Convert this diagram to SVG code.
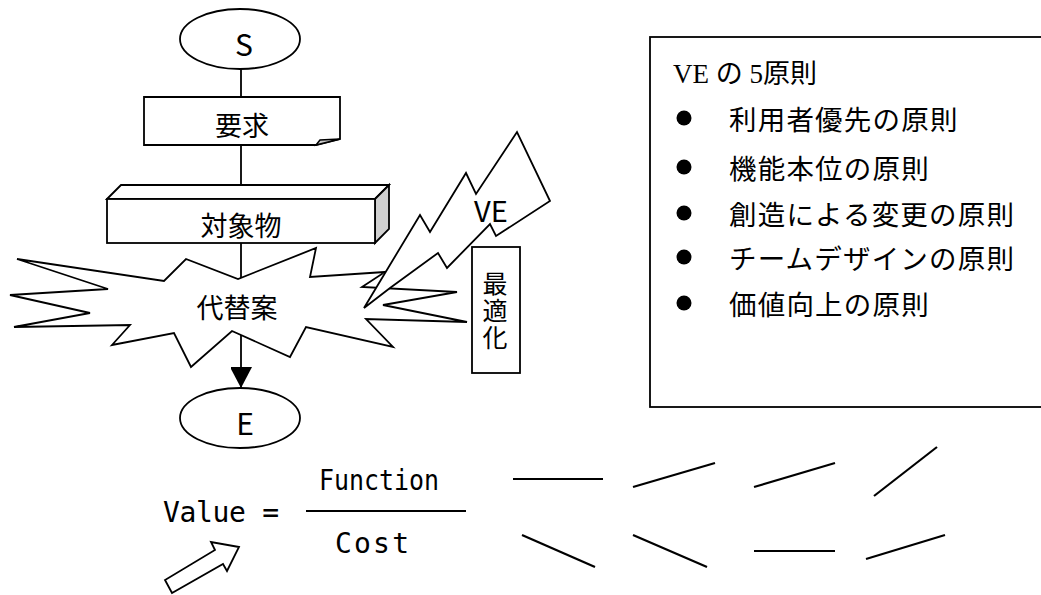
<svg xmlns="http://www.w3.org/2000/svg" width="1041" height="595" viewBox="0 0 1041 595">
<style>
.s{fill:#fff;stroke:#000;stroke-width:1.8;stroke-linejoin:miter}
.ln{stroke:#000;stroke-width:1.8;fill:none}
.ln2{stroke:#000;stroke-width:2.2;fill:none}
.jp{font-family:"Noto Sans CJK JP","Noto Sans",sans-serif;fill:#000}
.lbl{font-size:27px;letter-spacing:0px;text-anchor:middle;dominant-baseline:central}
.lst{font-size:27.5px;letter-spacing:1.2px;dominant-baseline:central}
.mono{font-family:"DejaVu Sans Mono","Liberation Mono",monospace;font-size:28px;fill:#000}
.serif{font-family:"Liberation Serif",serif}
</style>
<defs>
<marker id="ah" markerWidth="22" markerHeight="21" refX="21" refY="11" orient="auto" markerUnits="userSpaceOnUse">
<path d="M0,0 L21,11 L0,22 Z" fill="#000"/>
</marker>
</defs>
<rect width="1041" height="595" fill="#fff"/>
<g id="connectors">
<line class="ln" x1="241" y1="69" x2="241" y2="97"/>
<line class="ln" x1="241" y1="145" x2="241" y2="185"/>
<line class="ln" x1="241" y1="243" x2="241" y2="388" marker-end="url(#ah)"/>
</g>
<g id="node-S">
<ellipse class="s" cx="240" cy="39" rx="60" ry="30"/>
<text class="jp lbl" x="244" y="43" style="font-size:30px">S</text>
</g>
<g id="node-yokyu">
<path class="s" d="M144,97 H340 V139 L316,145 H144 Z"/>
<path d="M316,145 L320,140 L340,139 Z" fill="#c8c8c8" stroke="#000" stroke-width="1.5"/>
<text class="jp lbl" x="242" y="124">要求</text>
</g>
<g id="node-taishobutsu">
<path class="s" d="M107,199 L121,185 H389 L375,199 Z"/>
<path d="M375,199 L389,185 V229 L375,243 Z" fill="#d0d0d0" stroke="#000" stroke-width="1.8"/>
<rect class="s" x="107" y="199" width="268" height="44"/>
<text class="jp lbl" x="241" y="224">対象物</text>
</g>
<g id="node-daitaian">
<polygon class="s" points="17,259 164,281 186,259 238,279 316,248 310,277 385,272 362,287 457,292 383,305 467,322 366,319 393,347 306,327 290,357 232,331 191,367 174,333 112,345 130,325 14,327 90,313 10,295 108,289"/>
<text class="jp lbl" x="237" y="306">代替案</text>
</g>
<g id="node-VE">
<polygon class="s" points="364,308 420,215 430,232 466,173 476,194 517,132 550,201 496,236 490,224 447,268 438,253 390,288"/>
<text class="jp lbl" x="491" y="209" style="font-size:29px">VE</text>
</g>
<g id="node-saitekika">
<rect class="s" x="472" y="247" width="48" height="126"/>
<text class="jp" x="495" y="271" font-size="25" writing-mode="vertical-rl" letter-spacing="2">最適化</text>
</g>
<g id="node-E">
<ellipse class="s" cx="240" cy="418" rx="60" ry="30"/>
<text class="jp lbl" x="245" y="422" style="font-size:30px">E</text>
</g>
<g id="node-principles">
<rect class="s" x="650" y="37" width="400" height="370"/>
<text x="673" y="83" font-size="27" fill="#000"><tspan class="serif">VE </tspan><tspan class="jp">の</tspan><tspan class="serif"> 5</tspan><tspan class="jp">原則</tspan></text>
<circle cx="684" cy="118" r="7.5"/>
<circle cx="684" cy="167" r="7.5"/>
<circle cx="684" cy="213" r="7.5"/>
<circle cx="684" cy="257" r="7.5"/>
<circle cx="684" cy="303" r="7.5"/>
<text class="jp lst" x="729" y="118">利用者優先の原則</text>
<text class="jp lst" x="729" y="167">機能本位の原則</text>
<text class="jp lst" x="729" y="213">創造による変更の原則</text>
<text class="jp lst" x="729" y="257">チームデザインの原則</text>
<text class="jp lst" x="729" y="303">価値向上の原則</text>
</g>
<g id="formula">
<text class="mono" x="163" y="522" textLength="116" lengthAdjust="spacing">Value =</text>
<text class="mono" x="319" y="490" textLength="120" lengthAdjust="spacingAndGlyphs">Function</text>
<line class="ln" x1="306" y1="511" x2="466" y2="511"/>
<text class="mono" x="335" y="553" textLength="74" lengthAdjust="spacing">Cost</text>
<polygon class="s" points="239,547 211,542 215,550 165,580 172,593 223,564 227,571"/>
</g>
<g id="strokes">
<line class="ln2" x1="513" y1="479" x2="603" y2="479"/>
<line class="ln2" x1="633" y1="487" x2="715" y2="463"/>
<line class="ln2" x1="754" y1="487" x2="835" y2="463"/>
<line class="ln2" x1="874" y1="496" x2="937" y2="447"/>
<line class="ln2" x1="522" y1="535" x2="595" y2="567"/>
<line class="ln2" x1="633" y1="535" x2="707" y2="567"/>
<line class="ln2" x1="754" y1="551" x2="835" y2="551"/>
<line class="ln2" x1="866" y1="559" x2="945" y2="535"/>
</g>
</svg>
